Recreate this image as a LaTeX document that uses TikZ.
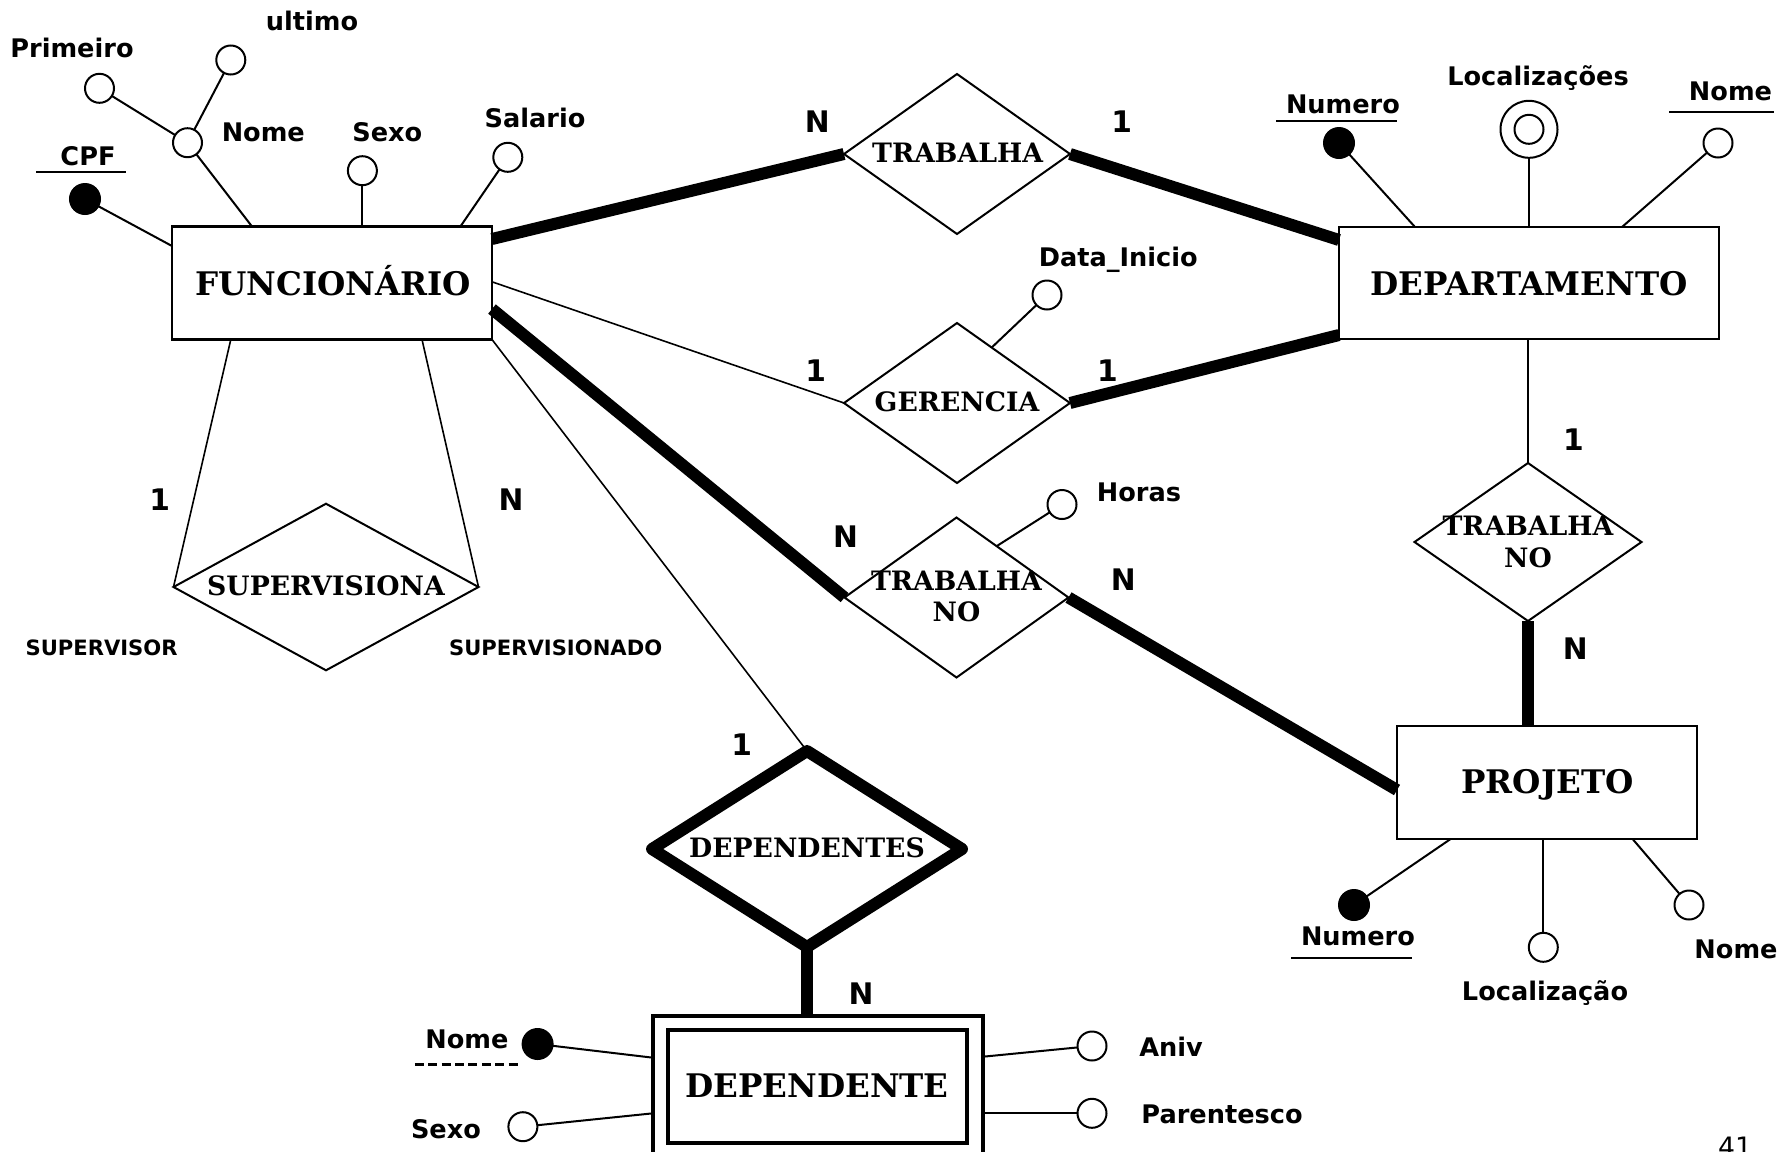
\documentclass[tikz,border=0pt]{standalone}
\usepackage{fontspec}
\newfontfamily\entfont{DejaVu Serif}
\newfontfamily\attfont{DejaVu Sans}
\usetikzlibrary{shapes.geometric}
\tikzset{
  ent/.style={draw, rectangle, line width=1.3pt, inner sep=0pt, outer sep=0pt},
  rel/.style={draw, diamond, line width=1pt, inner sep=0pt, outer sep=0pt},
  att/.style={draw, circle, line width=1pt, inner sep=0pt, outer sep=0pt, minimum size=14.5pt},
  keyatt/.style={att, fill=black, minimum size=15pt},
  conn/.style={line width=1pt},
  heavy/.style={line width=6pt},
  rline/.style={line width=0.8pt},
  etext/.style={font=\entfont\bfseries\fontsize{16.25pt}{19pt}\selectfont, anchor=base, inner sep=0pt},
  rtext/.style={font=\entfont\bfseries\fontsize{13.35pt}{16pt}\selectfont, anchor=base, inner sep=0pt},
  atext/.style={font=\attfont\bfseries\fontsize{12.8pt}{15pt}\selectfont, anchor=base, inner sep=0pt},
  ctext/.style={font=\attfont\bfseries\fontsize{14.85pt}{17pt}\selectfont, anchor=base, inner sep=0pt},
  roletext/.style={font=\attfont\bfseries\fontsize{10.55pt}{12pt}\selectfont, anchor=base, inner sep=0pt},
  pagetext/.style={font=\attfont\fontsize{13.35pt}{16pt}\selectfont, anchor=base, inner sep=0pt},
}
\begin{document}
\begin{tikzpicture}[x=0.5pt, y=-0.5pt]
\useasboundingbox (0,0) rectangle (1790,1152);
\fill[white] (0,0) rectangle (1790,1152);

% ---------- entities ----------
\node[ent, minimum width=160pt, minimum height=56.5pt] (func) at (332,283) {};
\node[etext] (funct) at (333,295) {FUNCIONÁRIO};
\node[ent, minimum width=190pt, minimum height=56pt] (dept) at (1529,283) {};
\node[etext] (deptt) at (1529,295) {DEPARTAMENTO};
\node[ent, minimum width=150pt, minimum height=56.5pt] (proj) at (1547,782.5) {};
\node[etext] (projt) at (1547.7,793.3) {PROJETO};
\node[ent, line width=2pt, minimum width=165pt, minimum height=70pt] (depo) at (818,1086.3) {};
\node[ent, line width=1.9pt, minimum width=149.5pt, minimum height=56.4pt] (depi) at (817.5,1086.3) {};
\node[etext] (depent) at (817,1097.3) {DEPENDENTE};

% ---------- relationships ----------
\node[rel, minimum width=113pt, minimum height=80pt] (trab) at (957,154) {};
\node[rtext] (trabt) at (957.6,162.7) {TRABALHA};
\node[rel, minimum width=113pt, minimum height=80pt] (ger) at (957,403) {};
\node[rtext] (gert) at (957,411.7) {GERENCIA};
\node[rel, minimum width=152.5pt, minimum height=83.3pt] (sup) at (326,587) {};
\node[rtext] (supt) at (326,595) {SUPERVISIONA};
\node[rel, minimum width=112pt, minimum height=80pt] (tnoa) at (956.5,597.5) {};
\node[rtext] (tnoat) at (956.5,590.8) {TRABALHA};
\node[rtext] (tnoab) at (956.5,621.5) {NO};
\node[rel, minimum width=113.5pt, minimum height=79pt] (tnob) at (1528,542) {};
\node[rtext] (tnobt) at (1528,535.2) {TRABALHA};
\node[rtext] (tnobb) at (1528,567) {NO};
\node[rel, line width=6pt, line join=round, minimum width=155pt, minimum height=98pt] (deps) at (807,849) {};
\node[rtext] (depst) at (807,857.5) {DEPENDENTES};

% ---------- relationship connectors ----------
\draw[heavy] ([yshift=22pt]func.east) -- (trab.west);
\draw[heavy] (trab.east) -- ([yshift=21.5pt]dept.west);
\draw[rline] ([yshift=0.6pt]func.east) -- (ger.west);
\draw[heavy] (ger.east) -- ([yshift=-26pt]dept.west);
\draw[heavy] ([yshift=-13pt]func.east) -- (tnoa.west);
\draw[heavy] (tnoa.east) -- ([yshift=-3.75pt]proj.west);
\draw[rline] (func.south east) -- (deps.north);
\draw[rline] ([xshift=-50.6pt]func.south) -- (sup.west);
\draw[rline] ([xshift=45pt]func.south) -- (sup.east);
\draw[rline] ([xshift=-0.5pt]dept.south) -- (tnob.north);
\draw[heavy] (tnob.south) -- ([xshift=-9.5pt]proj.north);
\draw[heavy] (deps.south) -- ([xshift=-5.5pt]depo.north);

% ---------- cardinalities ----------
\node[ctext] (c1) at (817.3,132.7) {N};
\node[ctext] (c2) at (1121.7,132.7) {1};
\node[ctext] (c3) at (815.8,381.7) {1};
\node[ctext] (c4) at (1107.4,381.7) {1};
\node[ctext] (c5) at (159.6,510) {1};
\node[ctext] (c6) at (511,510) {N};
\node[ctext] (c7) at (845.5,547.8) {N};
\node[ctext] (c8) at (1123.2,590) {N};
\node[ctext] (c9) at (1573.4,450.7) {1};
\node[ctext] (c10) at (1575.3,659.9) {N};
\node[ctext] (c11) at (741.7,755) {1};
\node[ctext] (c12) at (861,1004.3) {N};
\node[roletext] (r1) at (101.6,655) {SUPERVISOR};
\node[roletext] (r2) at (555.7,655) {SUPERVISIONADO};

% ---------- FUNCIONARIO attributes ----------
\node[keyatt] (cpf) at (85,199) {};
\draw[conn] (cpf) -- ([yshift=18.5pt]func.west);
\node[att] (fnome) at (187.5,142.7) {};
\draw[conn] (fnome) -- ([xshift=-40pt]func.north);
\node[att] (prim) at (99.5,88.3) {};
\draw[conn] (prim) -- (fnome);
\node[att] (ult) at (230.8,60) {};
\draw[conn] (ult) -- (fnome);
\node[att] (fsexo) at (362.4,170.7) {};
\draw[conn] (fsexo) -- ([xshift=15.2pt]func.north);
\node[att] (fsal) at (507.8,157.3) {};
\draw[conn] (fsal) -- ([xshift=64.2pt]func.north);
\node[atext] (lcpf) at (88,165) {CPF};
\draw[conn] (36.4,172.3) -- (126.3,172.3);
\node[atext] (lfnome) at (263.3,141) {Nome};
\node[atext] (lprim) at (72,57.7) {Primeiro};
\node[atext] (lult) at (312,30.7) {ultimo};
\node[atext] (lfsexo) at (387.3,141) {Sexo};
\node[atext] (lfsal) at (535,127.7) {Salario};

% ---------- DEPARTAMENTO attributes ----------
\node[keyatt] (dnum) at (1339,143) {};
\draw[conn] (dnum) -- ([xshift=-57pt]dept.north);
\node[att, minimum size=28.5pt] (dloc) at (1529,129.3) {};
\node[att] (dloci) at (1529,129.3) {};
\draw[conn] (dloc) -- (dept.north);
\node[att] (dnome) at (1718,143) {};
\draw[conn] (dnome) -- ([xshift=46.5pt]dept.north);
\node[atext] (ldnum) at (1343,113) {Numero};
\draw[conn] (1276,120.7) -- (1397,120.7);
\node[atext] (ldloc) at (1538,85.7) {Localizações};
\node[atext] (ldnome) at (1730.5,100.7) {Nome};
\draw[conn] (1669,111.7) -- (1774,111.7);

% ---------- relationship attributes ----------
\node[att] (dini) at (1047,295) {};
\draw[conn] (ger.58) -- (dini);
\node[atext] (ldini) at (1118.3,266.7) {Data\_Inicio};
\node[att] (horas) at (1062,504.5) {};
\draw[conn] (tnoa.52) -- (horas);
\node[atext] (lhoras) at (1139,501.4) {Horas};

% ---------- PROJETO attributes ----------
\node[keyatt] (pnum) at (1354,905) {};
\draw[conn] (pnum) -- ([xshift=-48.2pt]proj.south);
\node[att] (ploc) at (1543.3,947.3) {};
\draw[conn] (ploc) -- ([xshift=-1.85pt]proj.south);
\node[att] (pnome) at (1689,905) {};
\draw[conn] (pnome) -- ([xshift=42.8pt]proj.south);
\node[atext] (lpnum) at (1358,945) {Numero};
\draw[conn] (1291,957.7) -- (1411.7,957.7);
\node[atext] (lploc) at (1545,1000) {Localização};
\node[atext] (lpnome) at (1736,958.3) {Nome};

% ---------- DEPENDENTE attributes ----------
\node[keyatt] (dnm) at (537.6,1044) {};
\draw[conn] (dnm) -- ([yshift=14.3pt]depo.west);
\node[att] (dsx) at (522.9,1126.7) {};
\draw[conn] (dsx) -- ([yshift=-13.5pt]depo.west);
\node[att] (aniv) at (1092,1046) {};
\draw[conn] (aniv) -- ([yshift=14.8pt]depo.east);
\node[att] (par) at (1092,1113.3) {};
\draw[conn] (par) -- ([yshift=-13.5pt]depo.east);
\node[atext] (ldnm) at (467,1048.3) {Nome};
\draw[line width=1.5pt, dash pattern=on 4.5pt off 2.2pt] (414.8,1064) -- (518.4,1064);
\node[atext] (ldsx) at (446,1138.3) {Sexo};
\node[atext] (laniv) at (1171,1056) {Aniv};
\node[atext] (lpar) at (1222,1123.3) {Parentesco};

% ---------- page number ----------
\node[pagetext] (pg) at (1735,1156.5) {41};
\end{tikzpicture}
\end{document}
